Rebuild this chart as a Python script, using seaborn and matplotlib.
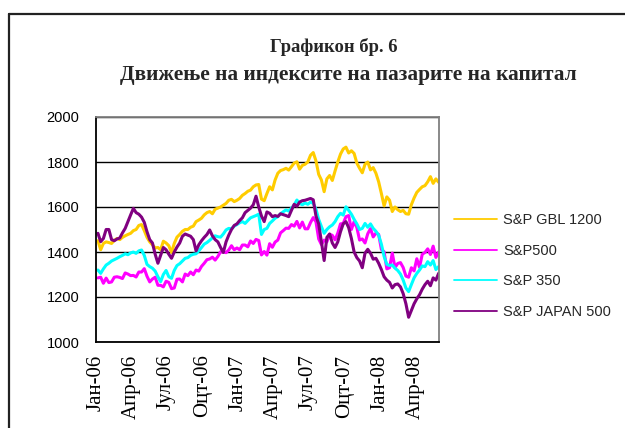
import numpy as np
import pandas as pd
import matplotlib
matplotlib.use("Agg")
import matplotlib.pyplot as plt
import seaborn as sns
from matplotlib.lines import Line2D

# ---------------- data ----------------
series_names = ["S&P GBL 1200", "S&P500", "S&P 350", "S&P JAPAN 500"]
series_colors = ["#FFCC00", "#FF00FF", "#00FFFF", "#800080"]

gbl1200 = [
    1450, 1410, 1438, 1445, 1442, 1438, 1452, 1460, 1455, 1465,
    1472, 1478, 1483, 1495, 1500, 1518, 1522, 1495, 1465, 1445,
    1432, 1418, 1420, 1410, 1448, 1440, 1428, 1398, 1438, 1466,
    1478, 1492, 1500, 1500, 1510, 1515, 1535, 1542, 1550, 1565,
    1575, 1580, 1570, 1590, 1595, 1600, 1608, 1616, 1630, 1634,
    1624, 1630, 1638, 1652, 1660, 1670, 1675, 1690, 1698, 1700,
    1635, 1628, 1660, 1690, 1676, 1720, 1750, 1762, 1766, 1772,
    1764, 1779, 1795, 1801, 1768, 1785, 1790, 1800, 1830, 1842,
    1805, 1745, 1720, 1668, 1725, 1740, 1718, 1760, 1800, 1835,
    1858, 1866, 1840, 1850, 1838, 1795, 1772, 1752, 1790, 1800,
    1765, 1775, 1750, 1712, 1660, 1605, 1645, 1630, 1580, 1600,
    1588, 1580, 1585, 1570, 1568, 1610, 1640, 1665, 1678, 1690,
    1695, 1712, 1735, 1705, 1725, 1710,
]

sp500 = [
    1285, 1288, 1261, 1284, 1264, 1267, 1288, 1290, 1287, 1282,
    1307, 1302, 1295, 1296, 1289, 1311, 1311, 1326, 1292, 1267,
    1280, 1288, 1252, 1252, 1245, 1270, 1265, 1237, 1240, 1279,
    1280, 1267, 1302, 1295, 1311, 1299, 1320, 1315, 1336, 1350,
    1366, 1369, 1377, 1364, 1380, 1401, 1401, 1397, 1409, 1428,
    1410, 1418, 1410, 1431, 1431, 1423, 1449, 1438, 1456, 1451,
    1387, 1402, 1386, 1437, 1421, 1444, 1453, 1485, 1495, 1506,
    1505, 1522, 1515, 1536, 1507, 1533, 1503, 1503, 1531, 1553,
    1534, 1458, 1433, 1453, 1445, 1479, 1474, 1454, 1484, 1525,
    1527, 1557, 1562, 1500, 1535, 1509, 1453, 1458, 1440, 1481,
    1504, 1467, 1484, 1478, 1411, 1401, 1325, 1330, 1395, 1331,
    1349, 1353, 1331, 1293, 1288, 1330, 1316, 1370, 1332, 1390,
    1398, 1414, 1389, 1426, 1376, 1400,
]

sp350 = [
    1320, 1305, 1325, 1342, 1350, 1360, 1366, 1372, 1379, 1385,
    1392, 1388, 1396, 1400, 1394, 1405, 1409, 1385, 1345, 1335,
    1328, 1315, 1290, 1268, 1300, 1318, 1290, 1283, 1318, 1340,
    1348, 1360, 1372, 1375, 1385, 1390, 1392, 1405, 1420, 1435,
    1442, 1452, 1463, 1472, 1468, 1466, 1480, 1498, 1505, 1503,
    1515, 1522, 1530, 1535, 1527, 1540, 1552, 1557, 1562, 1568,
    1478, 1500, 1505, 1527, 1538, 1550, 1557, 1570, 1579, 1587,
    1582, 1595, 1609, 1631, 1616, 1610, 1618, 1612, 1622, 1616,
    1590, 1545, 1513, 1483, 1500, 1512, 1520, 1535, 1557, 1572,
    1564, 1601, 1585, 1568, 1545, 1525, 1500, 1505, 1527, 1510,
    1525, 1505, 1492, 1475, 1435, 1380, 1345, 1340, 1342, 1328,
    1318, 1302, 1275, 1240, 1224, 1255, 1285, 1305, 1320, 1338,
    1335, 1357, 1342, 1362, 1322, 1335,
]

japan500 = [
    1483, 1446, 1460, 1500, 1500, 1455, 1450, 1458, 1462, 1485,
    1505, 1535, 1565, 1594, 1575, 1568, 1555, 1532, 1490, 1455,
    1440, 1390, 1350, 1385, 1420, 1410, 1390, 1372, 1400, 1422,
    1440, 1470, 1480, 1475, 1470, 1455, 1405, 1432, 1450, 1465,
    1478, 1498, 1472, 1455, 1445, 1420, 1398, 1445, 1475, 1500,
    1518, 1525, 1540, 1552, 1575, 1585, 1595, 1610, 1648, 1600,
    1560, 1535, 1578, 1572, 1557, 1562, 1558, 1570, 1566, 1562,
    1557, 1585, 1612, 1603, 1622, 1628, 1630, 1634, 1638, 1632,
    1560, 1525, 1445, 1362, 1465, 1480, 1440, 1420, 1445, 1490,
    1525, 1535, 1508, 1460, 1400, 1375, 1360, 1330, 1395, 1412,
    1395, 1368, 1372, 1350, 1322, 1290, 1275, 1265, 1240, 1255,
    1258, 1245, 1215, 1170, 1110, 1140, 1170, 1192, 1210, 1235,
    1255, 1270, 1250, 1285, 1275, 1305,
]

dates = pd.date_range("2006-01-06", periods=len(sp500), freq="7D")

tick_dates = pd.to_datetime([
    "2006-01-01", "2006-04-01", "2006-07-01", "2006-10-01",
    "2007-01-01", "2007-04-01", "2007-07-01", "2007-10-01",
    "2008-01-01", "2008-04-01",
])
tick_labels = ["Јан-06", "Апр-06", "Јул-06", "Оцт-06", "Јан-07",
               "Апр-07", "Јул-07", "Оцт-07", "Јан-08", "Апр-08"]
y_ticks = [1000, 1200, 1400, 1600, 1800, 2000]

title_line1 = "Графикон бр. 6"
title_line2 = "Движење на индексите на пазарите на капитал"

df = pd.DataFrame({
    "date": np.tile(dates, 4),
    "value": np.concatenate([gbl1200, sp500, sp350, japan500]),
    "series": np.repeat(series_names, len(dates)),
})

# ---------------- figure ----------------
sns.set_theme(style="white")
plt.rcParams["font.family"] = ["Liberation Sans", "DejaVu Sans"]

W, H = 625, 428
fig = plt.figure(figsize=(W / 100, H / 100), dpi=100)
fig.patch.set_facecolor("white")

L, R, T, B = 96, 439, 117, 342
ax = fig.add_axes([L / W, 1 - B / H, (R - L) / W, (B - T) / H])
ax.set_facecolor("white")

sns.lineplot(data=df, x="date", y="value", hue="series",
             hue_order=series_names, palette=series_colors,
             linewidth=2.2, ax=ax, legend=False)

ax.set_xlim(pd.Timestamp("2006-01-01"), pd.Timestamp("2008-05-31"))
ax.set_ylim(1000, 2000)
ax.set_yticks(y_ticks)
ax.set_yticklabels([str(v) for v in y_ticks], fontsize=10.5,
                   family=["Liberation Sans"])
ax.set_xticks(tick_dates)
ax.set_xticklabels(tick_labels, rotation=90, fontsize=15,
                   family=["Liberation Serif"])
ax.set_xlabel("")
ax.set_ylabel("")

ax.set_axisbelow(True)
ax.yaxis.grid(True, color="black", linewidth=1.0)
ax.xaxis.grid(False)

for s in ["left", "bottom"]:
    ax.spines[s].set_color("black")
    ax.spines[s].set_linewidth(1.3)
for s in ["top", "right"]:
    ax.spines[s].set_color("#808080")
    ax.spines[s].set_linewidth(1.3)

ax.tick_params(axis="both", which="major", direction="out", length=4,
               width=1, color="black", labelcolor="black")
ax.tick_params(axis="y", pad=8)
ax.tick_params(axis="x", pad=5)

# chart frame
fig.add_artist(Line2D([9 / W, 9 / W], [0, 1 - 14 / H], transform=fig.transFigure,
                      color="#222222", linewidth=1.6))
fig.add_artist(Line2D([9 / W, 1], [1 - 14 / H, 1 - 14 / H], transform=fig.transFigure,
                      color="#222222", linewidth=1.6))

# titles
fig.text(334 / W, 1 - 47 / H, title_line1, ha="center", va="center",
         family=["Liberation Serif"], fontweight="bold", fontsize=13.4)
fig.text(348 / W, 1 - 75 / H, title_line2, ha="center", va="center",
         family=["Liberation Serif"], fontweight="bold", fontsize=15.4)

# legend
handles = [Line2D([0], [0], color=c, linewidth=1.3) for c in series_colors]
fig.legend(handles, series_names, loc="center left",
           bbox_to_anchor=(454 / W, 1 - 266 / H), bbox_transform=fig.transFigure,
           frameon=False, handlelength=2.95, handletextpad=0.4,
           labelspacing=1.15, borderpad=0, borderaxespad=0,
           prop={"family": "Liberation Sans", "size": 10.5})

fig.savefig("out.png", dpi=100, facecolor="white")
